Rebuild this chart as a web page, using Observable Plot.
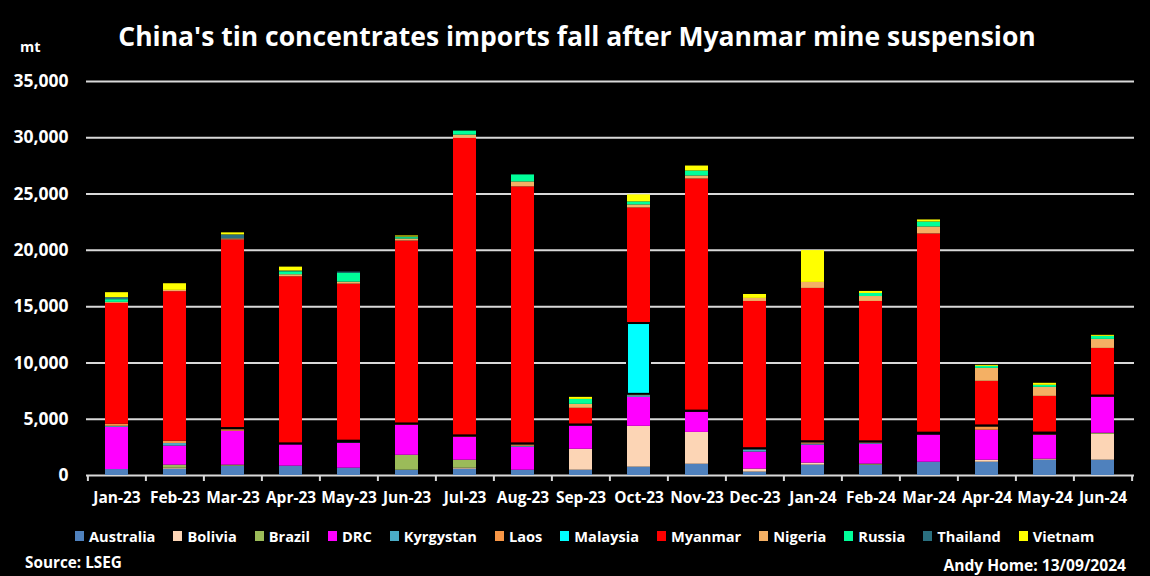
<!DOCTYPE html>
<html><head><meta charset="utf-8">
<script src="https://cdn.jsdelivr.net/npm/d3@7"></script>
<script src="https://cdn.jsdelivr.net/npm/@observablehq/plot@0.6"></script>
<style>
body{margin:0;background:#000;}
#wrap{position:relative;width:1150px;height:576px;background:#000;color:#fff;font-family:"Open Sans",sans-serif;font-weight:700;overflow:hidden}
#title{position:absolute;left:0;top:21px;width:1154px;text-align:center;font-size:26.5px;line-height:30px;white-space:nowrap}
#unit{position:absolute;left:20px;top:37px;font-size:14.5px;line-height:20px}
#chart{position:absolute;left:0;top:60px}
#legend{position:absolute;left:75px;top:526px;display:flex;gap:18px;font-size:14.6px;line-height:20px;white-space:nowrap}
#legend .it{display:flex;align-items:center}
#legend .sw{width:9px;height:10px;margin-right:5px}
#source{position:absolute;left:25px;top:552px;font-size:15.3px;line-height:20px}
#credit{position:absolute;right:24px;top:555px;font-size:15.6px;line-height:20px}
</style></head><body>
<div id="wrap">
<div id="title">China's tin concentrates imports fall after Myanmar mine suspension</div>
<div id="unit">mt</div>
<div id="chart"></div>
<div id="legend"></div>
<div id="source">Source: LSEG</div>
<div id="credit">Andy Home: 13/09/2024</div>
</div>
<script>
const months = ["Jan-23","Feb-23","Mar-23","Apr-23","May-23","Jun-23","Jul-23","Aug-23","Sep-23","Oct-23","Nov-23","Dec-23","Jan-24","Feb-24","Mar-24","Apr-24","May-24","Jun-24"];
const countries = ["Australia","Bolivia","Brazil","DRC","Kyrgystan","Laos","Malaysia","Myanmar","Nigeria","Russia","Thailand","Vietnam"];
const colors = ["#4f81bd","#fcd5b5","#9bbb59","#ff00ff","#4bacc6","#f79646","#00ffff","#ff0000","#f4b064","#00ff99","#2a6f7f","#ffff00"];

const australia = [530,560,830,830,650,470,560,470,470,740,1000,300,920,920,1180,1180,1360,1360];
const bolivia   = [0,90,0,0,0,0,90,0,1860,3630,2830,270,180,0,0,180,90,2300];
const brazil    = [0,270,90,0,0,1330,710,0,0,0,0,0,0,90,0,0,0,90];
const drc       = [3750,1690,3010,1950,2210,2660,2040,2040,2040,2570,1860,1510,1600,1770,2480,2660,2130,3190];
const kyrgystan = [90,230,0,0,90,0,0,90,90,150,0,270,90,60,0,0,0,0];
const laos      = [180,210,210,0,0,90,90,180,0,120,0,0,180,120,0,355,90,90];
const malaysia  = [0,0,30,30,100,30,30,30,30,6290,30,30,30,30,100,30,100,30];
const myanmar   = [10740,13280,16760,14845,13950,16250,26450,22830,1480,10267,20620,13080,13620,12470,17700,3960,3260,4230];
const nigeria   = [90,115,90,180,180,180,270,440,350,270,270,270,530,440,620,1150,800,800];
const russia    = [240,0,0,265,800,120,350,620,440,270,440,0,0,270,440,180,180,270];
const thailand  = [180,0,355,60,90,60,0,0,0,0,0,0,0,0,0,0,0,0];
const vietnam   = [440,590,180,350,0,90,0,0,180,620,440,350,2830,180,180,90,180,90];

const seriesList = [australia,bolivia,brazil,drc,kyrgystan,laos,malaysia,myanmar,nigeria,russia,thailand,vietnam];
const yTicks = [0,5000,10000,15000,20000,25000,30000,35000];

const rows = [];
months.forEach((m, i) => {
  let acc = 0;
  countries.forEach((c, j) => {
    const v = seriesList[j][i];
    rows.push({month: m, country: c, value: v, y1: acc, y2: acc + v});
    acc += v;
  });
});

const W = 1150, H = 455, mL = 86, mR = 16, mT = 21, mB = 40;
const step = (W - mL - mR) / months.length;

const chart = Plot.plot({
  width: W, height: H,
  marginLeft: mL, marginRight: mR, marginTop: mT, marginBottom: mB,
  style: {background: "transparent", color: "#fff", fontFamily: "Open Sans, sans-serif", fontWeight: 700, overflow: "visible"},
  x: {domain: months, paddingInner: 0.6, paddingOuter: 0.3, label: null, axis: null},
  y: {domain: [0, 35000], label: null, axis: null},
  color: {domain: countries, range: colors},
  marks: [
    Plot.gridY(yTicks, {stroke: "#d9d9d9", strokeOpacity: 1, strokeWidth: 2}),
    Plot.axisX(months, {tickSize: 6, tickFormat: () => "", dx: -step / 2, stroke: "#d9d9d9", strokeWidth: 2}),
    Plot.axisX([months[months.length - 1]], {tickSize: 6, tickFormat: () => "", dx: step / 2, stroke: "#d9d9d9", strokeWidth: 2}),
    Plot.barY(rows.filter(d => d.value > 0), {x: "month", y1: "y1", y2: "y2", fill: "country"}),
    Plot.barY(rows.filter(d => d.country === "Malaysia" && d.value > 0), {x: "month", y1: "y1", y2: "y2", fill: "country", stroke: "#000", strokeWidth: 2}),
    Plot.axisY(yTicks, {tickSize: 0, tickPadding: 18, fontSize: 17.5, tickFormat: d3.format(","), fill: "#fff"}),
    Plot.axisX(months, {tickSize: 0, tickPadding: 16, fontSize: 15.5, fill: "#fff"})
  ]
});
document.getElementById("chart").appendChild(chart);

const legend = document.getElementById("legend");
countries.forEach((c, j) => {
  const it = document.createElement("div");
  it.className = "it";
  const sw = document.createElement("span");
  sw.className = "sw";
  sw.style.background = colors[j];
  const tx = document.createElement("span");
  tx.textContent = c;
  it.appendChild(sw); it.appendChild(tx);
  legend.appendChild(it);
});
</script>
</body></html>
